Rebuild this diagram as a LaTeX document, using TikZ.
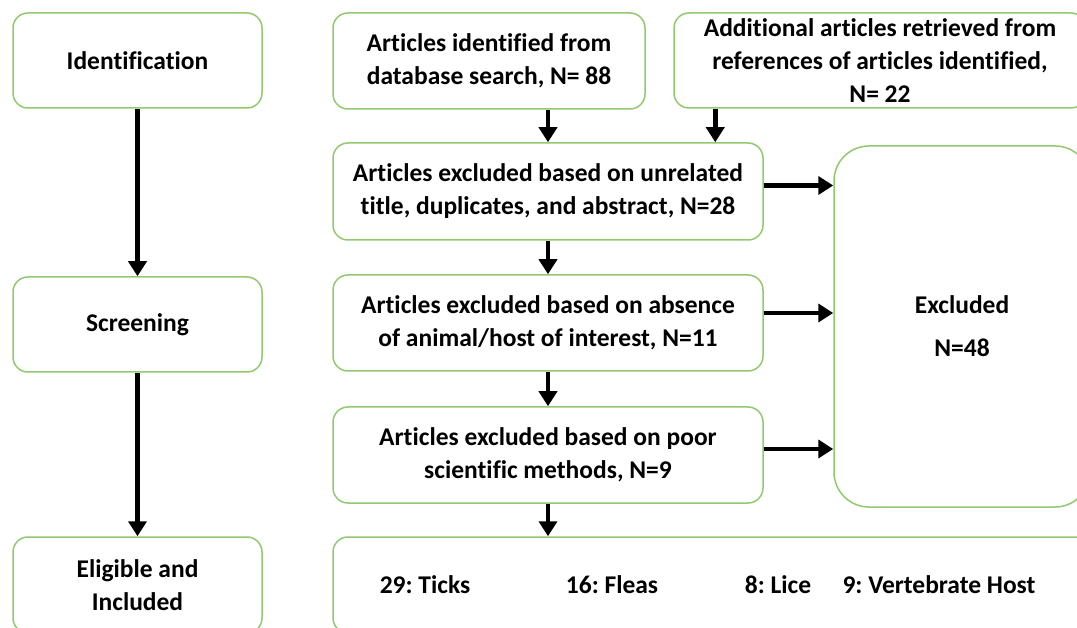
\documentclass[tikz,border=0pt]{standalone}
\usepackage{fontspec}
\setmainfont{Carlito}[Ligatures=NoCommon]
\usetikzlibrary{arrows.meta}
\definecolor{boxgreen}{RGB}{146,200,110}
\frenchspacing

\begin{document}
\begin{tikzpicture}[x=1pt,y=-1pt]
  \tikzstyle{every node}+=[inner sep=0pt, font=\fontsize{25.5}{33}\selectfont\bfseries]
  \tikzstyle{stage}=[draw=boxgreen, line width=1.5pt, rounded corners=15pt, align=center]
  \tikzstyle{arr}=[line width=4.5pt, -{Triangle[length=15pt,width=18pt]}]
  \clip (0,0) rectangle (1077,628);
  % left column
  \node [stage, minimum width=249, minimum height=95] (ident) at (137.5,60.5) {Identification};
  \node [stage, minimum width=249, minimum height=95] (screen) at (137.5,324.5) {Screening};
  \node [stage, minimum width=249, minimum height=96] (elig) at (137.5,585) {Eligible and\\Included};
  % right column
  \node [stage, minimum width=312, minimum height=96] (found) at (489,61) {Articles identified from\\database search, N= 88};
  \node [stage, minimum width=412, minimum height=95] (extra) at (880,60.5) {Additional articles retrieved from\\references of articles identified,\\N= 22};
  \node [stage, minimum width=430, minimum height=97] (unrel) at (548,191.5) {Articles excluded based on unrelated\\title, duplicates, and abstract, N=28};
  \node [stage, minimum width=430, minimum height=96] (nohost) at (548,323) {Articles excluded based on absence\\of animal/host of interest, N=11};
  \node [stage, minimum width=430, minimum height=96] (poor) at (548,455) {Articles excluded based on poor\\scientific methods, N=9};
  \node [stage, minimum width=256, minimum height=361, rounded corners=35pt] (excl) at (962,326.5) {Excluded\\[10pt]N=48};
  \node [stage, minimum width=757, minimum height=96] (incl) at (711.5,585) {};
  \node (ticks) at (425,585) {29: Ticks};
  \node (fleas) at (612,585) {16: Fleas};
  \node (lice) at (778,585) {8: Lice};
  \node (verts) at (939,585) {9: Vertebrate Host};
  % arrows
  \draw [arr] (ident) -- (screen);
  \draw [arr] (screen) -- (elig);
  \draw [arr] (found.south -| unrel.north) -- (unrel.north);
  \draw [arr] ([xshift=42pt]extra.south west) -- ([xshift=42pt]extra.south west |- unrel.north);
  \draw [arr] (unrel) -- (nohost);
  \draw [arr] (nohost) -- (poor);
  \draw [arr] (poor.south) -- (poor.south |- incl.north);
  \draw [arr] ([yshift=6pt]unrel.east) -- ([yshift=6pt]unrel.east -| excl.west);
  \draw [arr] ([yshift=10pt]nohost.east) -- ([yshift=10pt]nohost.east -| excl.west);
  \draw [arr] ([yshift=6pt]poor.east) -- ([yshift=6pt]poor.east -| excl.west);
\end{tikzpicture}
\end{document}
